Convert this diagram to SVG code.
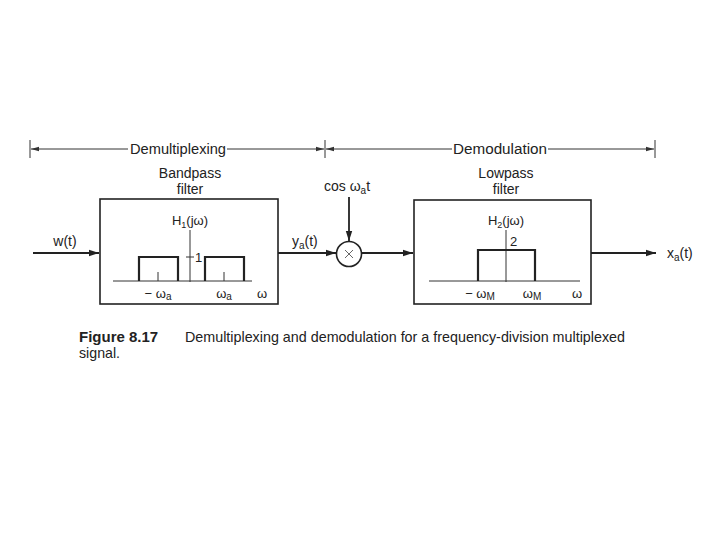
<svg xmlns="http://www.w3.org/2000/svg" width="720" height="540" viewBox="0 0 720 540">
<defs>
<marker id="ah" markerWidth="10" markerHeight="8" refX="10" refY="4" orient="auto" markerUnits="userSpaceOnUse">
<path d="M0,0.8 L10,4 L0,7.2 Z" fill="#222"/>
</marker>
<marker id="sh" markerWidth="8" markerHeight="6" refX="8" refY="3" orient="auto" markerUnits="userSpaceOnUse">
<path d="M0,0.8 L8,3 L0,5.2 Z" fill="#333"/>
</marker>
<style>
text{font-family:"Liberation Sans",Arial,sans-serif;fill:#222}
.lbl{font-size:14px}
.sm{font-size:13px}
.box{fill:none;stroke:#222;stroke-width:1.6}
.thin{stroke:#333;stroke-width:1;fill:none}
.sig{stroke:#222;stroke-width:1.8;fill:none}
.resp{stroke:#222;stroke-width:2.2;fill:none}
</style>
</defs>
<rect width="720" height="540" fill="#fff"/>

<g id="dimensions">
<line class="thin" x1="30" y1="140" x2="30" y2="158"/>
<line class="thin" x1="325" y1="140" x2="325" y2="158"/>
<line class="thin" x1="655" y1="140" x2="655" y2="158"/>
<path class="thin" d="M128,149 H31" marker-end="url(#sh)"/>
<path class="thin" d="M227,149 H324" marker-end="url(#sh)"/>
<path class="thin" d="M452,149 H326" marker-end="url(#sh)"/>
<path class="thin" d="M548,149 H654" marker-end="url(#sh)"/>
<text class="lbl" x="178" y="154" text-anchor="middle" textLength="96" lengthAdjust="spacingAndGlyphs">Demultiplexing</text>
<text class="lbl" x="500" y="154" text-anchor="middle" textLength="94" lengthAdjust="spacingAndGlyphs">Demodulation</text>
</g>

<g id="connectors">
<path class="sig" d="M33,253 H99" marker-end="url(#ah)"/>
<path class="sig" d="M278,253 H336" marker-end="url(#ah)"/>
<path class="sig" d="M349,197 V241" marker-end="url(#ah)"/>
<path class="sig" d="M362,253 H413" marker-end="url(#ah)"/>
<path class="sig" d="M591,253 H656" marker-end="url(#ah)"/>
<text class="lbl" x="65" y="246" text-anchor="middle">w(t)</text>
<text class="lbl" x="292" y="246">y<tspan font-size="10" dy="3">a</tspan><tspan dy="-3">(t)</tspan></text>
<text class="lbl" x="324" y="191">cos ω<tspan font-size="10" dy="3">a</tspan><tspan dy="-3">t</tspan></text>
<text class="lbl" x="667" y="258">x<tspan font-size="10" dy="3">a</tspan><tspan dy="-3">(t)</tspan></text>
</g>

<g id="bandpass">
<text class="lbl" x="190" y="178" text-anchor="middle">Bandpass</text>
<text class="lbl" x="190" y="194" text-anchor="middle">filter</text>
<rect class="box" x="100" y="199" width="178" height="105"/>
<text class="sm" x="190" y="225" text-anchor="middle">H<tspan font-size="9" dy="3">1</tspan><tspan dy="-3">(jω)</tspan></text>
<line class="thin" x1="190" y1="230" x2="190" y2="282"/>
<line class="thin" x1="113" y1="281" x2="252" y2="281"/>
<path class="resp" d="M139,281 V257 H178 V281"/>
<path class="resp" d="M205,281 V257 H244 V281"/>
<line class="thin" x1="158" y1="272" x2="158" y2="281"/>
<line class="thin" x1="224" y1="272" x2="224" y2="281"/>
<line class="thin" x1="186" y1="257" x2="194" y2="257"/>
<text class="sm" x="195" y="262">1</text>
<text class="sm" x="158" y="298" text-anchor="middle">− ω<tspan font-size="10" dy="2">a</tspan></text>
<text class="sm" x="224" y="298" text-anchor="middle">ω<tspan font-size="10" dy="2">a</tspan></text>
<text class="sm" x="262" y="298" text-anchor="middle">ω</text>
</g>

<g id="multiplier">
<circle cx="349" cy="254" r="12.5" fill="#fff" stroke="#222" stroke-width="1.6"/>
<path d="M345,250 L353,258 M353,250 L345,258" stroke="#555" stroke-width="0.9"/>
</g>

<g id="lowpass">
<text class="lbl" x="506" y="178" text-anchor="middle">Lowpass</text>
<text class="lbl" x="506" y="194" text-anchor="middle">filter</text>
<rect class="box" x="414" y="200" width="177" height="104"/>
<text class="sm" x="506" y="225" text-anchor="middle">H<tspan font-size="9" dy="3">2</tspan><tspan dy="-3">(jω)</tspan></text>
<line class="thin" x1="506" y1="230" x2="506" y2="282"/>
<line class="thin" x1="429" y1="281" x2="580" y2="281"/>
<path class="resp" d="M478,281 V250 H535 V281"/>
<text class="sm" x="510" y="246">2</text>
<text class="sm" x="480" y="298" text-anchor="middle">− ω<tspan font-size="10" dy="2">M</tspan></text>
<text class="sm" x="532" y="298" text-anchor="middle">ω<tspan font-size="10" dy="2">M</tspan></text>
<text class="sm" x="577" y="298" text-anchor="middle">ω</text>
</g>

<g id="caption">
<text x="79" y="342" font-size="15" font-weight="bold">Figure 8.17</text>
<text x="185" y="342" font-size="15" textLength="440" lengthAdjust="spacingAndGlyphs">Demultiplexing and demodulation for a frequency-division multiplexed</text>
<text x="79" y="358" font-size="15" textLength="41" lengthAdjust="spacingAndGlyphs">signal.</text>
</g>
</svg>
